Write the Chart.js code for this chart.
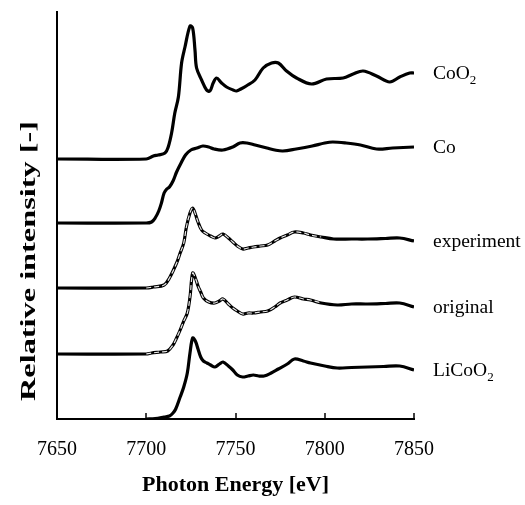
<!DOCTYPE html>
<html>
<head>
<meta charset="utf-8">
<script src="https://cdn.jsdelivr.net/npm/chart.js@4/dist/chart.umd.min.js"></script>
<style>
  html, body { margin: 0; padding: 0; background: #fff; }
  #wrap { width: 525px; height: 505px; }
</style>
</head>
<body>
<div id="wrap"><canvas id="xanes"></canvas></div>
<script>
// spectra, intensity relative to each curve's own baseline
const names = ['CoO2', 'Co', 'experiment', 'original', 'LiCoO2'];
const offsets = [260, 196, 131, 65, 0];

const coo2E = [7650, 7700, 7704, 7706.7, 7710.5, 7712.3, 7714.2, 7716, 7718, 7719.8, 7721.7, 7724.5, 7726, 7727.3, 7728.2, 7731, 7733.8, 7735.7, 7737.5, 7739.4, 7742.2, 7745, 7748.7, 7750.6, 7753, 7756, 7760.9, 7765.5, 7770.2, 7774, 7778.6, 7784.2, 7792.6, 7801, 7810.3, 7815.9, 7821.5, 7829, 7836.4, 7842, 7847.6, 7850];
const coo2I = [0, 0, 3, 4, 6, 12, 26, 46, 62, 96, 112, 133, 131, 109, 91, 79, 69, 68, 76, 81, 76, 72, 69, 68, 70, 73, 79, 91, 96, 96, 88, 81, 75, 80, 81, 85, 88, 83, 77, 82, 86, 86];

const coE = [7650, 7700, 7703, 7705, 7707, 7708.5, 7710, 7711.5, 7713, 7715, 7717, 7719.5, 7722, 7725, 7728.4, 7731.7, 7735, 7738, 7743, 7748.5, 7752.5, 7756.4, 7761, 7767.6, 7772, 7776.5, 7784, 7793, 7800, 7804.5, 7812, 7820, 7829, 7838, 7850];
const coI = [0, 0, 1, 5, 12, 20, 30, 34, 36, 42, 51, 60, 68, 73, 75, 77, 76, 74, 73, 76, 80, 80, 78, 75, 73, 72, 74, 77, 80, 81, 80, 78, 74, 75, 76];

const expE = [7650, 7700, 7704, 7710, 7713, 7717, 7719, 7721, 7722.5, 7724.5, 7726, 7727.5, 7729, 7731, 7733, 7736, 7738.5, 7741, 7743, 7746, 7748.5, 7751, 7754, 7757, 7760, 7764, 7768, 7772, 7775, 7779, 7783, 7788, 7792, 7798, 7805, 7815, 7824, 7834, 7842, 7850];
const expI = [0, 0, 1, 3, 10, 25, 35, 45, 61, 75, 80, 74, 66, 58, 55, 52, 50, 52, 54, 50, 46, 42, 39, 40, 41, 42, 43, 47, 50, 53, 56, 55, 53, 51, 49, 49, 49, 49.5, 50, 47];

const origE = [7650, 7700, 7703, 7708, 7712, 7715, 7717, 7719, 7721, 7723, 7724.5, 7726, 7727.5, 7729, 7730.5, 7732, 7735, 7738.5, 7741, 7743, 7746, 7748.5, 7751, 7754, 7757, 7760, 7764, 7768, 7772, 7775, 7779, 7783, 7788, 7792, 7798, 7807, 7815, 7824, 7834, 7842, 7850];
const origI = [0, 0, 1, 2, 3, 9, 16, 24, 33, 41, 57, 81, 76, 68, 62, 56, 52, 51, 53, 55, 50, 46, 43, 40, 41, 41, 42, 43, 47, 51, 54, 57, 55, 54, 51, 49, 50, 50, 50.5, 51, 47];

const licoE = [7700, 7705, 7710, 7713, 7715, 7716.5, 7719, 7721, 7723, 7724.5, 7726, 7727.5, 7729, 7730.5, 7732, 7734, 7736, 7738.5, 7741, 7743, 7746, 7748.5, 7751, 7754, 7757, 7760, 7763, 7766, 7770, 7774, 7779, 7783, 7788, 7792, 7800, 7807, 7815, 7824, 7833, 7842, 7850];
const licoI = [0, 0.5, 2, 3, 6, 10, 22, 32, 46, 66, 81, 78, 70, 62, 58, 56, 54, 52, 55, 57, 53, 49, 44, 42, 43, 44, 43, 43, 46, 50, 55, 60, 58, 56, 53, 51, 51.5, 52, 52.5, 53, 49];

// the simulated fit is overlaid as a dashed trace on this energy window
const fitRange = [7698, 7800];

const xTicks = [7650, 7700, 7750, 7800, 7850];

const energies = [coo2E, coE, expE, origE, licoE];
const intens = [coo2I, coI, expI, origI, licoI];

function toPoints(E, I, off) {
  return E.map((e, i) => ({ x: e, y: I[i] + off }));
}

const datasets = names.map((n, k) => ({
  label: n,
  data: toPoints(energies[k], intens[k], offsets[k]),
  borderColor: '#000',
  borderWidth: 3.2,
  pointRadius: 0,
  tension: 0.35,
  order: 1
}));

// dashed overlays on experiment and original
[2, 3].forEach(k => {
  const pts = toPoints(energies[k], intens[k], offsets[k])
    .filter(p => p.x >= fitRange[0] && p.x <= fitRange[1]);
  datasets.push({
    label: names[k] + ' fit',
    data: pts,
    borderColor: '#e8e8e8',
    borderWidth: 1.2,
    borderDash: [5, 3],
    pointRadius: 0,
    tension: 0.35,
    order: 0
  });
});

const serif = '"Liberation Serif", "Times New Roman", serif';

const decorations = {
  id: 'decorations',
  afterDatasetsDraw(chart) {
    const { ctx, chartArea, scales } = chart;
    const xs = scales.x, ys = scales.y;
    ctx.save();

    // inward tick marks on the energy axis
    ctx.strokeStyle = '#000';
    ctx.lineWidth = 1.5;
    xs.ticks.forEach(t => {
      const px = Math.round(xs.getPixelForValue(t.value));
      ctx.beginPath();
      ctx.moveTo(px, chartArea.bottom);
      ctx.lineTo(px, chartArea.bottom - 6);
      ctx.stroke();
    });

    // curve names at the right end of each trace
    ctx.fillStyle = '#000';
    ctx.textBaseline = 'middle';
    ctx.textAlign = 'left';
    names.forEach((n, k) => {
      const pts = chart.data.datasets[k].data;
      const last = pts[pts.length - 1];
      const py = ys.getPixelForValue(last.y) + 1;
      const px = chartArea.right + 19;
      const sub = n.endsWith('O2');
      const main = sub ? n.slice(0, -1) : n;
      ctx.font = '19.5px ' + serif;
      ctx.fillText(main, px, py);
      if (sub) {
        const w = ctx.measureText(main).width;
        ctx.font = '13px ' + serif;
        ctx.fillText('2', px + w, py + 7);
      }
    });

    // y axis title
    const text = 'Relative intensity [-]';
    ctx.font = 'bold 22px ' + serif;
    const tw = ctx.measureText(text).width;
    ctx.translate(29, 261);
    ctx.rotate(-Math.PI / 2);
    ctx.scale(280 / tw, 1);
    ctx.textAlign = 'center';
    ctx.fillText(text, 0, 0);
    ctx.restore();
  }
};

new Chart(document.getElementById('xanes'), {
  type: 'line',
  data: { datasets },
  options: {
    responsive: true,
    maintainAspectRatio: false,
    animation: false,
    events: [],
    layout: { padding: { top: 12, right: 111, left: 0, bottom: 0 } },
    plugins: {
      legend: { display: false },
      tooltip: { enabled: false }
    },
    scales: {
      x: {
        type: 'linear',
        min: xTicks[0],
        max: xTicks[xTicks.length - 1],
        afterBuildTicks: s => { s.ticks = xTicks.map(v => ({ value: v })); },
        afterFit: s => { s.height = 86; },
        grid: { drawOnChartArea: false, drawTicks: false },
        border: { display: true, color: '#000', width: 2 },
        ticks: {
          color: '#000',
          padding: 19,
          maxRotation: 0,
          callback: v => String(v),
          font: { family: serif, size: 20 }
        },
        title: {
          display: true,
          text: 'Photon Energy [eV]',
          color: '#000',
          padding: { top: 0, bottom: 6 },
          font: { family: serif, size: 22, weight: 'bold' }
        }
      },
      y: {
        min: 0,
        max: 407,
        afterFit: s => { s.width = 57; },
        grid: { drawOnChartArea: false, drawTicks: false },
        border: { display: true, color: '#000', width: 2 },
        ticks: { display: false }
      }
    }
  },
  plugins: [decorations]
});
</script>
</body>
</html>
